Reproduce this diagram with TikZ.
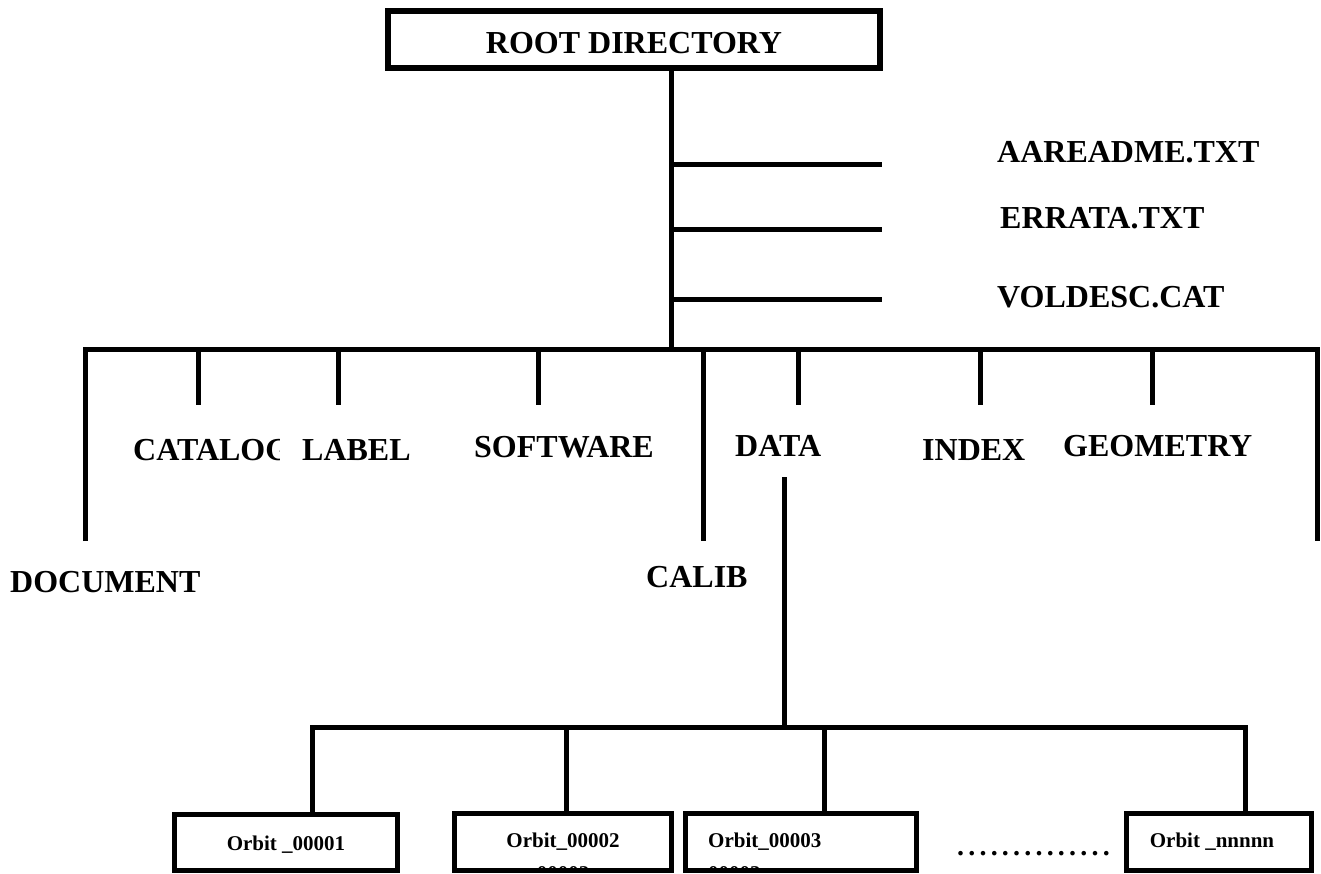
\documentclass[tikz,border=0pt]{standalone}
\usepackage{fontspec}
\setmainfont{Liberation Serif}
\newcommand{\dotrow}{.\kern4.2pt.\kern4.2pt.\kern4.2pt.\kern4.2pt.\kern4.2pt.\kern4.2pt.\kern4.2pt.\kern4.2pt.\kern4.2pt.\kern4.2pt.\kern4.2pt.\kern4.2pt.\kern4.2pt.}
\begin{document}
\begin{tikzpicture}[x=1pt,y=-1pt,
  lbl/.style={font=\bfseries\fontsize{32}{38}\selectfont, inner sep=0pt, anchor=base west},
  small/.style={font=\bfseries\fontsize{21}{25}\selectfont, inner sep=0pt, anchor=base},
  box/.style={draw, line width=5.5pt, inner sep=0pt},
  wire/.style={line width=5pt, line join=miter}]
\useasboundingbox (0,0) rectangle (1321,874);

% root
\node[box, line width=6pt, minimum width=492pt, minimum height=57pt] (root) at (634,39.5) {};
\node[lbl, anchor=base] (rootlbl) at (634,54) {ROOT DIRECTORY};

% trunk and file branches
\coordinate (tk) at (671,349);
\draw[wire] (root.south -| tk) -- (tk);
\coordinate (f1) at (882,165);
\coordinate (f2) at (882,230);
\coordinate (f3) at (882,300);
\draw[wire] (f1 -| tk) -- (f1);
\draw[wire] (f2 -| tk) -- (f2);
\draw[wire] (f3 -| tk) -- (f3);
\node[lbl] (aareadme) at (997,163) {AAREADME.TXT};
\node[lbl] (errata) at (1000,229) {ERRATA.TXT};
\node[lbl] (voldesc) at (997,307) {VOLDESC.CAT};

% main bus
\coordinate (bL) at (85,349);
\coordinate (bR) at (1317,349);
\coordinate (docEnd) at (85,541);
\coordinate (rEnd) at (1317,541);
\draw[wire] (docEnd) -- (bL) -- (bR) -- (rEnd);
\coordinate (catEnd) at (198,405);
\coordinate (labEnd) at (338,405);
\coordinate (sofEnd) at (538,405);
\coordinate (calEnd) at (703,541);
\coordinate (datEnd) at (798,405);
\coordinate (idxEnd) at (980,405);
\coordinate (geoEnd) at (1152,405);
\foreach \e in {catEnd,labEnd,sofEnd,calEnd,datEnd,idxEnd,geoEnd}
  \draw[wire] (\e |- bL) -- (\e);

% directory labels
\begin{scope}
  \clip (100,400) rectangle (279,500);
  \node[lbl] (catalog) at (133,460) {CATALOG};
\end{scope}
\node[lbl] (label) at (302,460) {LABEL};
\node[lbl] (software) at (474,457) {SOFTWARE};
\node[lbl] (data) at (735,456) {DATA};
\node[lbl] (index) at (922,460) {INDEX};
\node[lbl] (geometry) at (1063,456) {GEOMETRY};
\node[lbl] (document) at (10,592) {DOCUMENT};
\node[lbl] (calib) at (646,587) {CALIB};

% clipped second lines
\begin{scope}
  \clip (457,817) rectangle (669,868);
  \node[small] (o2b) at (563,880) {00002};
\end{scope}
\begin{scope}
  \clip (688,817) rectangle (914,868);
  \node[small, anchor=base west] (o3b) at (708,880) {00003};
\end{scope}

% orbit boxes
\node[box, minimum width=223pt, minimum height=56pt] (b1) at (286,842.5) {};
\node[box, minimum width=217pt, minimum height=57pt] (b2) at (563,842) {};
\node[box, minimum width=231pt, minimum height=57pt] (b3) at (801,842) {};
\node[box, minimum width=185pt, minimum height=57pt] (b4) at (1219,842) {};
\node[small] (o1) at (286,850) {Orbit \_00001};
\node[small] (o2) at (563,847) {Orbit\_00002};
\node[small, anchor=base west] (o3) at (708,847) {Orbit\_00003};
\node[small] (o4) at (1212,847) {Orbit \_nnnnn};
\node[anchor=base west, inner sep=0pt, font=\bfseries\fontsize{28}{30}\selectfont] (dots) at (957,855) {\dotrow};

% data subtree
\coordinate (dt) at (784,477);
\coordinate (d1) at (312,727);
\coordinate (d2) at (566,727);
\coordinate (d3) at (824,727);
\coordinate (d4) at (1245,727);
\draw[wire] (dt) -- (dt |- d1);
\draw[wire] (b1.north -| d1) -- (d1) -- (d4) -- (b4.north -| d4);
\draw[wire] (d2) -- (b2.north -| d2);
\draw[wire] (d3) -- (b3.north -| d3);
\end{tikzpicture}
\end{document}
